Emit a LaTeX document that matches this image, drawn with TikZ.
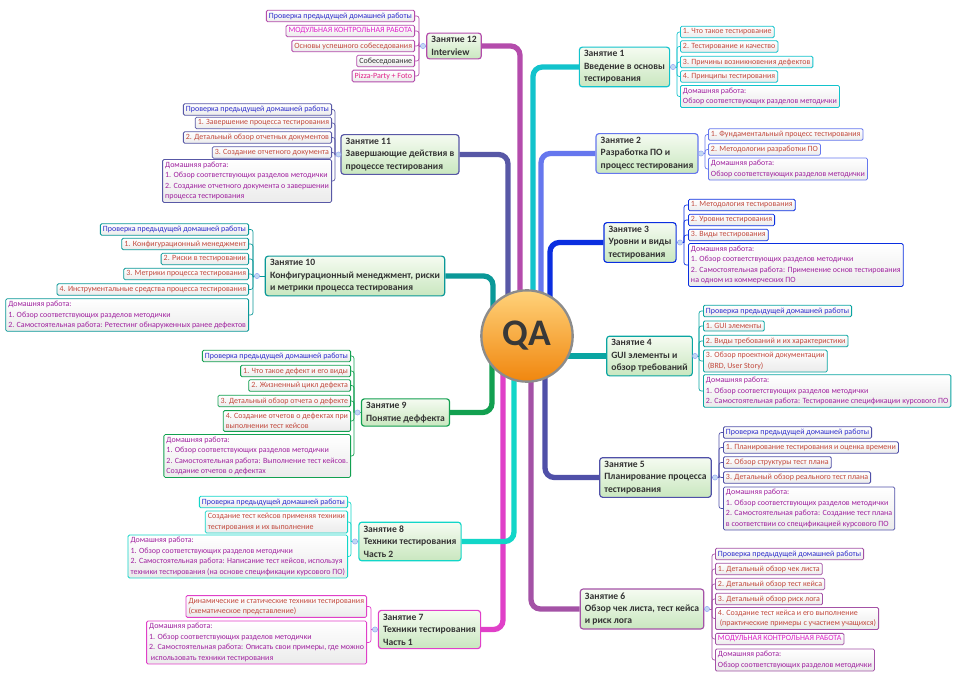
\documentclass[tikz,border=0pt]{standalone}
\usepackage{fontspec}
\newfontfamily\uifont{Carlito}
\newcommand{\subfnt}{\uifont\fontsize{6.8}{8.9}\selectfont}
\newcommand{\topfnt}{\uifont\bfseries\fontsize{8.2}{10.6}\selectfont}

\definecolor{zan1}{HTML}{12C3CC}
\definecolor{zan2}{HTML}{6677EE}
\definecolor{zan3}{HTML}{0A2EE0}
\definecolor{zan4}{HTML}{0AA5A2}
\definecolor{zan5}{HTML}{5050A8}
\definecolor{zan6}{HTML}{A452A6}
\definecolor{zan7}{HTML}{E040C8}
\definecolor{zan8}{HTML}{12D6C8}
\definecolor{zan9}{HTML}{12A050}
\definecolor{zan10}{HTML}{0A9898}
\definecolor{zan11}{HTML}{5858A6}
\definecolor{zan12}{HTML}{B44CAC}
\definecolor{chkc}{HTML}{2E2ECC}
\definecolor{itmc}{HTML}{C24A3E}
\definecolor{hwc}{HTML}{A0229F}
\definecolor{modc}{HTML}{E022CC}
\definecolor{pinkc}{HTML}{E2228A}
\definecolor{topA}{HTML}{F5FBF1}
\definecolor{topB}{HTML}{C9E7BF}
\definecolor{subB}{HTML}{EBEBEB}
\definecolor{dotc}{HTML}{C2D8F2}
\definecolor{qaA}{HTML}{FFD27A}
\definecolor{qaB}{HTML}{F0860E}

\begin{document}
\begin{tikzpicture}[x=0.03cm, y=-0.03cm,
    branch/.style={draw=#1, line width=4.5pt, rounded corners=8pt},
    topic/.style={draw=#1, line width=1pt, rounded corners=2.5pt, top color=topA, bottom color=topB,
      font=\topfnt, align=left, inner xsep=4pt, inner ysep=3pt, text=black!80},
    sub/.style={draw=#1, line width=0.7pt, rounded corners=1.2pt, top color=white, bottom color=subB,
      font=\subfnt, align=left, inner xsep=2.2pt, inner ysep=2.1pt},
    bra/.style={draw=#1, line width=0.6pt, rounded corners=2pt},
    knob/.style={circle, draw=dotc!70!blue, fill=dotc, line width=0.3pt, inner sep=0pt, minimum size=4.5pt},
    chk/.style={text=chkc}, itm/.style={text=itmc}, hw/.style={text=hwc}, mod/.style={text=modc}]

	\useasboundingbox (0,0) rectangle (960,680);
	\fill[white] (0,0) rectangle (960,680);

	% topics
	\node[topic=zan12] (t12) at (454,46) {Занятие 12\\Interview};
	\node[topic=zan1] (t1) at (624.5,67) {Занятие 1\\Введение в основы\\тестирования};
	\node[topic=zan11] (t11) at (400,154.5) {Занятие 11\\Завершающие действия в\\процессе тестирования};
	\node[topic=zan2] (t2) at (647,153.5) {Занятие 2\\Разработка ПО и\\процесс тестирования};
	\node[topic=zan3] (t3) at (640,242.5) {Занятие 3\\Уровни и виды\\тестирования};
	\node[topic=zan10] (t10) at (355,276) {Занятие 10\\Конфигурационный менеджмент, риски\\и метрики процесса тестирования};
	\node[topic=zan4] (t4) at (649.5,356) {Занятие 4\\GUI элементы и\\обзор требований};
	\node[topic=zan9] (t9) at (405.5,412.5) {Занятие 9\\Понятие деффекта};
	\node[topic=zan5] (t5) at (655.5,477.5) {Занятие 5\\Планирование процесса\\тестирования};
	\node[topic=zan8] (t8) at (410,541.5) {Занятие 8\\Техники тестирования\\Часть 2};
	\node[topic=zan7] (t7) at (429.5,629.5) {Занятие 7\\Техники тестирования\\Часть 1};
	\node[topic=zan6] (t6) at (642,609) {Занятие 6\\Обзор чек листа, тест кейса\\и риск лога};

	% branches
	\coordinate (o12) at (520,330);
	\coordinate (o1) at (533,330);
	\coordinate (o11) at (508,330);
	\coordinate (o2) at (541,330);
	\coordinate (o3) at (550,330);
	\coordinate (o10) at (493,330);
	\coordinate (o4) at (527,356);
	\coordinate (o9) at (492,340);
	\coordinate (o5) at (545,340);
	\coordinate (o8) at (514,340);
	\coordinate (o7) at (503,340);
	\coordinate (o6) at (531,340);
	\draw[branch=zan12] (o12) |- (t12.east);
	\draw[branch=zan11] (o11) |- (t11.east);
	\draw[branch=zan10] (o10) |- (t10.east);
	\draw[branch=zan1] (o1) |- (t1.west);
	\draw[branch=zan2] (o2) |- (t2.west);
	\draw[branch=zan3] (o3) |- (t3.west);
	\draw[branch=zan4] (o4) -- (t4.west);
	\draw[branch=zan9] (o9) |- (t9.east);
	\draw[branch=zan7] (o7) |- (t7.east);
	\draw[branch=zan8] (o8) |- (t8.east);
	\draw[branch=zan6] (o6) |- (t6.west);
	\draw[branch=zan5] (o5) |- (t5.west);

	\node[circle, draw=black!45, line width=2pt, minimum size=2.74cm, top color=qaA, bottom color=qaB,
	  font=\uifont\bfseries\fontsize{32}{32}\selectfont, text=black!78] (qa) at (527,336) {QA};

	% Занятие 12
	\node[sub=zan12, chk, anchor=east] (s12a) at (415,16) {Проверка предыдущей домашней работы};
	\node[sub=zan12, mod, anchor=east] (s12b) at (415,31) {МОДУЛЬНАЯ КОНТРОЛЬНАЯ РАБОТА};
	\node[sub=zan12, itm, anchor=east] (s12c) at (415,46) {Основы успешного собеседования};
	\node[sub=zan12, text=black!80, anchor=east] (s12d) at (415,61) {Собеседование};
	\node[sub=zan12, text=pinkc, anchor=east] (s12e) at (415,76) {Pizza-Party + Foto};
	\coordinate (j12) at (419,46);
	\draw[bra=zan12] (t12.west) -- (j12);
	\foreach \s in {s12a,s12b,s12c,s12d,s12e} \draw[bra=zan12] (j12) |- (\s.east);
	\node[knob] (k12) at (423,46) {};

	% Занятие 1
	\node[sub=zan1, itm, anchor=west] (s1a) at (680,32) {1. Что такое тестирование};
	\node[sub=zan1, itm, anchor=west] (s1b) at (680,46.5) {2. Тестирование и качество};
	\node[sub=zan1, itm, anchor=west] (s1c) at (680,62) {3. Причины возникновения дефектов};
	\node[sub=zan1, itm, anchor=west] (s1d) at (680,76.5) {4. Принципы тестирования};
	\node[sub=zan1, hw, anchor=west] (s1e) at (680,96.5) {Домашняя работа:\\Обзор соответствующих разделов методички};
	\coordinate (j1) at (677,67);
	\draw[bra=zan1] (t1.east) -- (j1);
	\foreach \s in {s1a,s1b,s1c,s1d,s1e} \draw[bra=zan1] (j1) |- (\s.west);
	\node[knob] (k1) at (673,67) {};

	% Занятие 11
	\node[sub=zan11, chk, anchor=east] (s11a) at (332,109.5) {Проверка предыдущей домашней работы};
	\node[sub=zan11, itm, anchor=east] (s11b) at (332,123) {1. Завершение процесса тестирования};
	\node[sub=zan11, itm, anchor=east] (s11c) at (332,137.5) {2. Детальный обзор отчетных документов};
	\node[sub=zan11, itm, anchor=east] (s11d) at (332,152.5) {3. Создание отчетного документа};
	\node[sub=zan11, hw, anchor=east] (s11e) at (332,181) {Домашняя работа:\\1. Обзор соответствующих разделов методички\\2. Создание отчетного документа о завершении\\процесса тестирования};
	\coordinate (j11) at (335,154.5);
	\draw[bra=zan11] (t11.west) -- (j11);
	\foreach \s in {s11a,s11b,s11c,s11d,s11e} \draw[bra=zan11] (j11) |- (\s.east);
	\node[knob] (k11) at (338.5,154.5) {};

	% Занятие 2
	\node[sub=zan2, itm, anchor=west] (s2a) at (708,134.5) {1. Фундаментальный процесс тестирования};
	\node[sub=zan2, itm, anchor=west] (s2b) at (708,149.5) {2. Методологии разработки ПО};
	\node[sub=zan2, hw, anchor=west] (s2c) at (708,169) {Домашняя работа:\\Обзор соответствующих разделов методички};
	\coordinate (j2) at (705,153.5);
	\draw[bra=zan2] (t2.east) -- (j2);
	\foreach \s in {s2a,s2b,s2c} \draw[bra=zan2] (j2) |- (\s.west);
	\node[knob] (k2) at (701,153.5) {};

	% Занятие 3
	\node[sub=zan3, itm, anchor=west] (s3a) at (688,205) {1. Методология тестирования};
	\node[sub=zan3, itm, anchor=west] (s3b) at (688,220) {2. Уровни тестирования};
	\node[sub=zan3, itm, anchor=west] (s3c) at (688,235) {3. Виды тестирования};
	\node[sub=zan3, hw, anchor=west] (s3d) at (688,265) {Домашняя работа:\\1. Обзор соответствующих разделов методички\\2. Самостоятельная работа: Применение основ тестирования\\на одном из коммерческих ПО};
	\coordinate (j3) at (684,242.5);
	\draw[bra=zan3] (t3.east) -- (j3);
	\foreach \s in {s3a,s3b,s3c,s3d} \draw[bra=zan3] (j3) |- (\s.west);
	\node[knob] (k3) at (680,242.5) {};

	% Занятие 10
	\node[sub=zan10, chk, anchor=east] (s10a) at (249,229.5) {Проверка предыдущей домашней работы};
	\node[sub=zan10, itm, anchor=east] (s10b) at (249,244) {1. Конфигурационный менеджмент};
	\node[sub=zan10, itm, anchor=east] (s10c) at (249,259) {2. Риски в тестировании};
	\node[sub=zan10, itm, anchor=east] (s10d) at (249,274) {3. Метрики процесса тестирования};
	\node[sub=zan10, itm, anchor=east] (s10e) at (249,289.5) {4. Инструментальные средства процесса тестирования};
	\node[sub=zan10, hw, anchor=east] (s10f) at (249,315) {Домашняя работа:\\1. Обзор соответствующих разделов методички\\2. Самостоятельная работа: Ретестинг обнаруженных ранее дефектов};
	\coordinate (j10) at (253,276);
	\draw[bra=zan10] (t10.west) -- (j10);
	\foreach \s in {s10a,s10b,s10c,s10d,s10e,s10f} \draw[bra=zan10] (j10) |- (\s.east);
	\node[knob] (k10) at (257,276) {};

	% Занятие 4
	\node[sub=zan4, chk, anchor=west] (s4a) at (703,311) {Проверка предыдущей домашней работы};
	\node[sub=zan4, itm, anchor=west] (s4b) at (703,326) {1. GUI элементы};
	\node[sub=zan4, itm, anchor=west] (s4c) at (703,341) {2. Виды требований и их характеристики};
	\node[sub=zan4, itm, anchor=west] (s4d) at (703,361) {3. Обзор проектной документации\\\hspace{1.5pt}(BRD, User Story)};
	\node[sub=zan4, hw, anchor=west] (s4e) at (703,391) {Домашняя работа:\\1. Обзор соответствующих разделов методички\\2. Самостоятельная работа: Тестирование спецификации курсового ПО};
	\coordinate (j4) at (699,356);
	\draw[bra=zan4] (t4.east) -- (j4);
	\foreach \s in {s4a,s4b,s4c,s4d,s4e} \draw[bra=zan4] (j4) |- (\s.west);
	\node[knob] (k4) at (695,356) {};

	% Занятие 9
	\node[sub=zan9, chk, anchor=east] (s9a) at (351,356) {Проверка предыдущей домашней работы};
	\node[sub=zan9, itm, anchor=east] (s9b) at (351,371) {1. Что такое дефект и его виды};
	\node[sub=zan9, itm, anchor=east] (s9c) at (351,385.5) {2. Жизненный цикл дефекта};
	\node[sub=zan9, itm, anchor=east] (s9d) at (351,401) {3. Детальный обзор отчета о дефекте};
	\node[sub=zan9, itm, anchor=east] (s9e) at (351,421) {4. Создание отчетов о дефектах при\\выполнении тест кейсов};
	\node[sub=zan9, hw, anchor=east] (s9f) at (351,456) {Домашняя работа:\\1. Обзор соответствующих разделов методички\\2. Самостоятельная работа: Выполнение тест кейсов.\\Создание отчетов о дефектах};
	\coordinate (j9) at (354,412.5);
	\draw[bra=zan9] (t9.west) -- (j9);
	\foreach \s in {s9a,s9b,s9c,s9d,s9e,s9f} \draw[bra=zan9] (j9) |- (\s.east);
	\node[knob] (k9) at (357.5,412.5) {};

	% Занятие 5
	\node[sub=zan5, chk, anchor=west] (s5a) at (723,432.5) {Проверка предыдущей домашней работы};
	\node[sub=zan5, itm, anchor=west] (s5b) at (723,447.5) {1. Планирование тестирования и оценка времени};
	\node[sub=zan5, itm, anchor=west] (s5c) at (723,462.5) {2. Обзор структуры тест плана};
	\node[sub=zan5, itm, anchor=west] (s5d) at (723,477.5) {3. Детальный обзор реального тест плана};
	\node[sub=zan5, hw, anchor=west] (s5e) at (723,508.5) {Домашняя работа:\\1. Обзор соответствующих разделов методички\\2. Самостоятельная работа: Создание тест плана\\в соответствии со спецификацией курсового ПО};
	\coordinate (j5) at (719,477.5);
	\draw[bra=zan5] (t5.east) -- (j5);
	\foreach \s in {s5a,s5b,s5c,s5d,s5e} \draw[bra=zan5] (j5) |- (\s.west);
	\node[knob] (k5) at (715,477.5) {};

	% Занятие 8
	\node[sub=zan8, chk, anchor=east] (s8a) at (348,502) {Проверка предыдущей домашней работы};
	\node[sub=zan8, itm, anchor=east] (s8b) at (348,522) {Создание тест кейсов применяя техники\\тестирования и их выполнение};
	\node[sub=zan8, hw, anchor=east] (s8c) at (348,556.5) {Домашняя работа:\\1. Обзор соответствующих разделов методички\\2. Самостоятельная работа: Написание тест кейсов, используя\\техники тестирования (на основе спецификации курсового ПО)};
	\coordinate (j8) at (351,541.5);
	\draw[bra=zan8] (t8.west) -- (j8);
	\foreach \s in {s8a,s8b,s8c} \draw[bra=zan8] (j8) |- (\s.east);
	\node[knob] (k8) at (355,541.5) {};

	% Занятие 7
	\node[sub=zan7, itm, anchor=east] (s7a) at (367,606.5) {Динамические и статические техники тестирования\\(схематическое представление)};
	\node[sub=zan7, hw, anchor=east] (s7b) at (367,642.5) {Домашняя работа:\\1. Обзор соответствующих разделов методички\\2. Самостоятельная работа: Описать свои примеры, где можно\\\hspace{1.5pt}использовать техники тестирования};
	\coordinate (j7) at (371,629.5);
	\draw[bra=zan7] (t7.west) -- (j7);
	\foreach \s in {s7a,s7b} \draw[bra=zan7] (j7) |- (\s.east);
	\node[knob] (k7) at (375,629.5) {};

	% Занятие 6
	\node[sub=zan6, chk, anchor=west] (s6a) at (715,554) {Проверка предыдущей домашней работы};
	\node[sub=zan6, itm, anchor=west] (s6b) at (715,569) {1. Детальный обзор чек листа};
	\node[sub=zan6, itm, anchor=west] (s6c) at (715,584) {2. Детальный обзор тест кейса};
	\node[sub=zan6, itm, anchor=west] (s6d) at (715,599) {3. Детальный обзор риск лога};
	\node[sub=zan6, itm, anchor=west] (s6e) at (715,618.5) {4. Создание тест кейса и его выполнение\\\hspace{1.5pt}(практические примеры с участием учащихся)};
	\node[sub=zan6, mod, anchor=west] (s6f) at (715,639) {МОДУЛЬНАЯ КОНТРОЛЬНАЯ РАБОТА};
	\node[sub=zan6, hw, anchor=west] (s6g) at (715,660) {Домашняя работа:\\Обзор соответствующих разделов методички};
	\coordinate (j6) at (712,609);
	\draw[bra=zan6] (t6.east) -- (j6);
	\foreach \s in {s6a,s6b,s6c,s6d,s6e,s6f,s6g} \draw[bra=zan6] (j6) |- (\s.west);
	\node[knob] (k6) at (707,609) {};

\end{tikzpicture}
\end{document}
